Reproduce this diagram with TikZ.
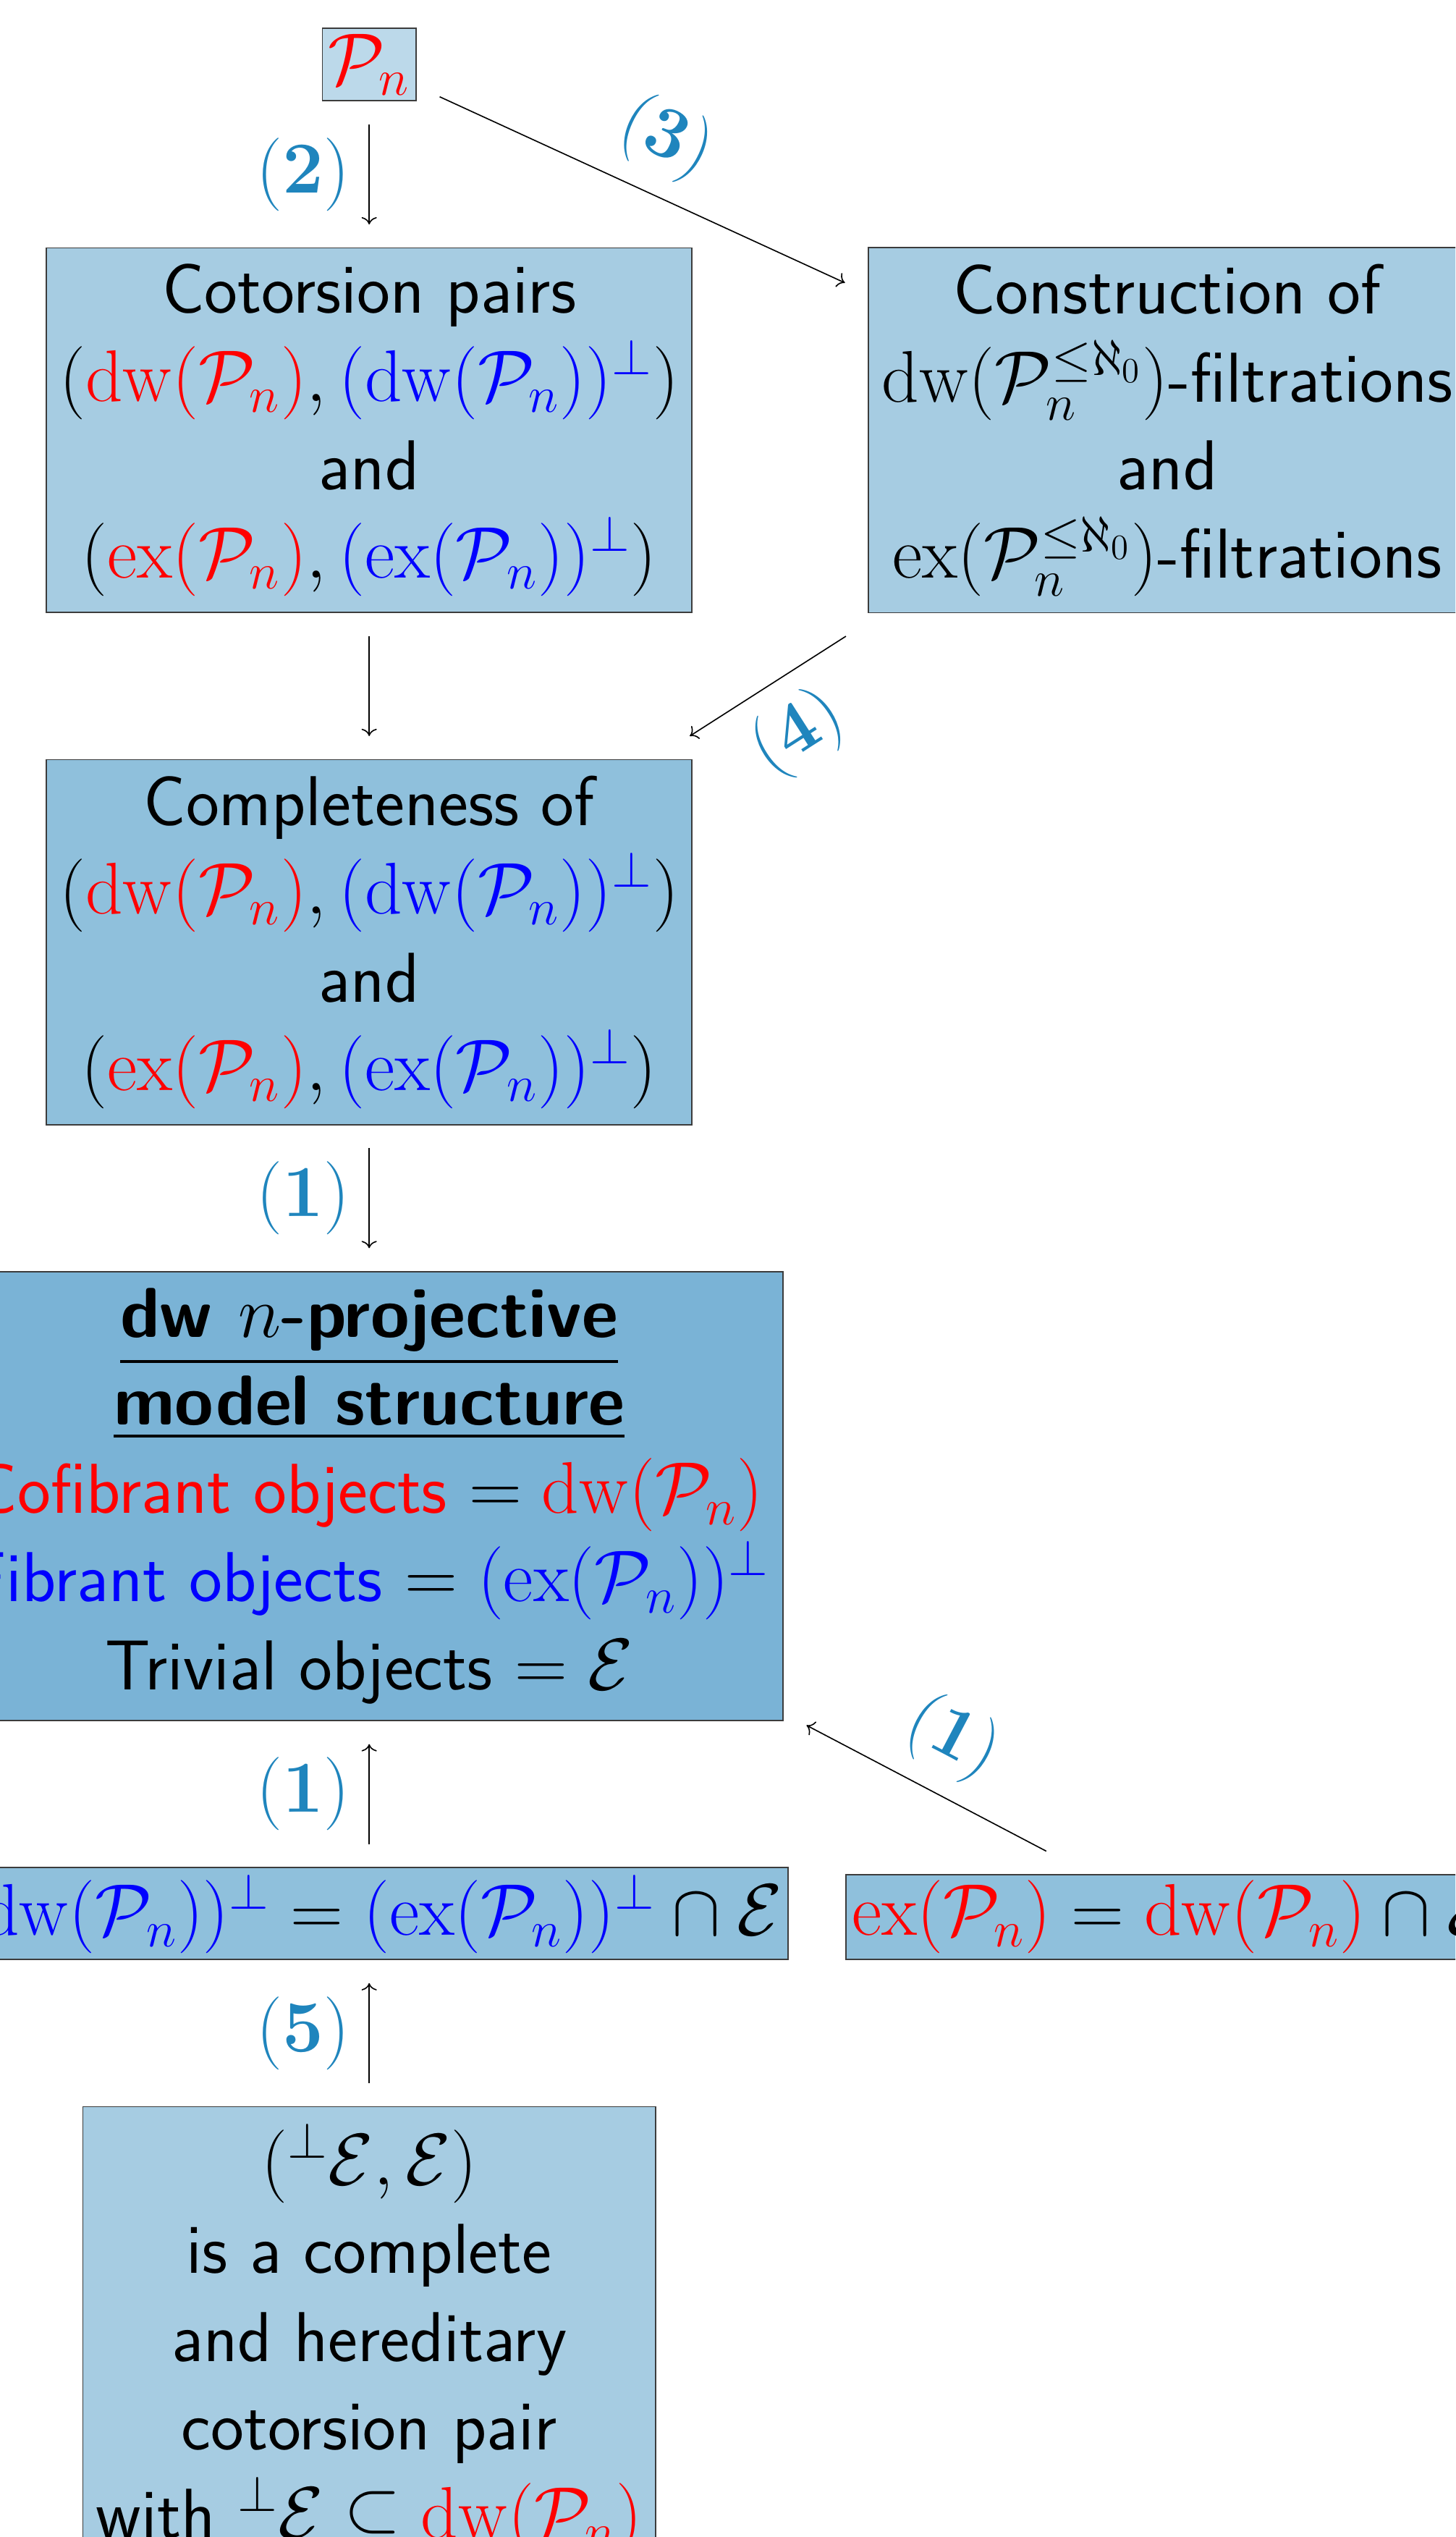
\documentclass[tikz,border=0pt]{standalone}
\usepackage{xcolor}
\usepackage{amsmath}
\usepackage{tikz}
\usetikzlibrary{arrows.meta, positioning}
\definecolor{pnblue}{HTML}{BCD9EA}
\definecolor{pairblue}{HTML}{A6CCE2}
\definecolor{compblue}{HTML}{8FC0DC}
\definecolor{modelblue}{HTML}{7AB3D6}
\definecolor{stepblue}{HTML}{1F85BD}
\definecolor{edgegray}{HTML}{3C3C3C}
\newcommand{\dwP}{\mathrm{dw}(\mathcal{P}_n)}
\newcommand{\exP}{\mathrm{ex}(\mathcal{P}_n)}

\begin{document}
\begin{tikzpicture}[
    node distance=34pt and 44pt,
    box/.style={draw=edgegray, font=\fontsize{24}{30}\selectfont\sffamily, inner sep=2pt, outer sep=8pt},
    bigbox/.style={box, align=center, inner xsep=4.5pt, inner ysep=5.5pt},
    arrow/.style={->, color=black},
    num/.style={font=\fontsize{24}{30}\selectfont, text=stepblue, inner sep=6.5pt},
]
    \useasboundingbox (-125.5pt,21.9pt) rectangle (369.2pt,-840.3pt);
    \clip (-125.5pt,21.9pt) rectangle (369.2pt,-840.3pt);

    % Left column
    \node[box, fill=pnblue] (pn) {$\textcolor{red}{\mathcal{P}_n}$};
    \node[bigbox, fill=pairblue, below=of pn] (pairs) {Cotorsion pairs\\
        $(\textcolor{red}{\dwP}, \textcolor{blue}{(\dwP)^\perp})$\\
        and\\
        $(\textcolor{red}{\exP}, \textcolor{blue}{(\exP)^\perp})$};
    \node[bigbox, fill=compblue, below=of pairs] (complete) {Completeness of\\
        $(\textcolor{red}{\dwP}, \textcolor{blue}{(\dwP)^\perp})$\\
        and\\
        $(\textcolor{red}{\exP}, \textcolor{blue}{(\exP)^\perp})$};
    \node[bigbox, fill=modelblue, below=of complete] (model) {\underline{\textbf{dw $n$-projective}}\\
        \underline{\textbf{model structure}}\\
        \textcolor{red}{Cofibrant objects} $= \textcolor{red}{\dwP}$\\
        \textcolor{blue}{Fibrant objects} $= \textcolor{blue}{(\exP)^\perp}$\\
        Trivial objects $= \mathcal{E}$};
    \node[box, fill=compblue, below=of model] (eqdw) {$\textcolor{blue}{(\dwP)^\perp} = \textcolor{blue}{(\exP)^\perp} \cap \mathcal{E}$};
    \node[bigbox, fill=pairblue, below=of eqdw] (hered) {$({}^\perp\mathcal{E}, \mathcal{E})$\\
        is a complete\\
        and hereditary\\
        cotorsion pair\\
        with ${}^\perp\mathcal{E} \subseteq \textcolor{red}{\dwP}$};

    % Right column
    \node[bigbox, fill=pairblue, right=of pairs] (filt) {Construction of\\
        $\mathrm{dw}(\mathcal{P}_n^{\leq\aleph_0})$-filtrations\\
        and\\
        $\mathrm{ex}(\mathcal{P}_n^{\leq\aleph_0})$-filtrations};
    \node[box, fill=compblue, base right=3.7pt of eqdw] (eqex) {$\textcolor{red}{\exP} = \textcolor{red}{\dwP} \cap \mathcal{E}$};

    % Arrows
    \draw[arrow] (pn) -- node[num, left] {$(\mathbf{2})$} (pairs);
    \draw[arrow] (pn) -- node[num, above, sloped] {$(\mathbf{3})$} (filt);
    \draw[arrow] (pairs) -- (complete);
    \draw[arrow] (filt) -- node[num, below, sloped] {$(\mathbf{4})$} (complete);
    \draw[arrow] (complete) -- node[num, left] {$(\mathbf{1})$} (model);
    \draw[arrow] (eqdw) -- node[num, left] {$(\mathbf{1})$} (model);
    \draw[arrow] (eqex) -- node[num, above, sloped] {$(\mathbf{1})$} (model);
    \draw[arrow] (hered) -- node[num, left] {$(\mathbf{5})$} (eqdw);

\end{tikzpicture}
\end{document}
